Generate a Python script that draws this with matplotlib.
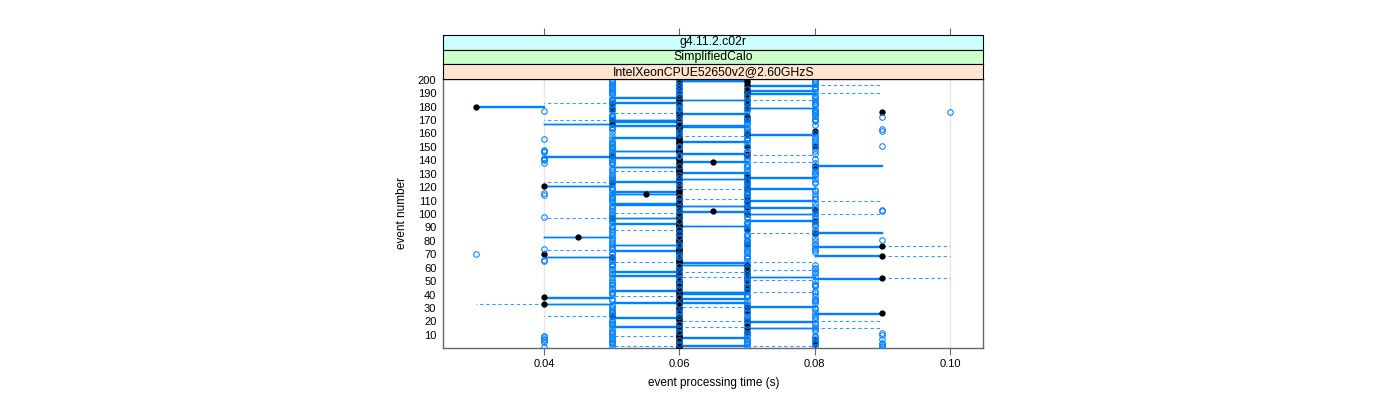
import matplotlib
matplotlib.use("Agg")
import matplotlib.pyplot as plt

plt.rcParams['font.family'] = ['Liberation Sans', 'DejaVu Sans']

# per-event box statistics, event processing time in ms (lattice bwplot style)
events = list(range(1, 201))

med_ms = [
    60, 60, 80, 60, 60, 80, 60, 60, 60, 60,
    60, 70, 60, 60, 70, 60, 60, 70, 60, 70,
    60, 60, 60, 50, 60, 90, 60, 70, 60, 60,
    70, 60, 40, 60, 60, 60, 60, 40, 60, 60,
    60, 60, 60, 70, 60, 60, 70, 60, 60, 60,
    70, 90, 70, 60, 60, 70, 60, 70, 60, 60,
    70, 70, 60, 60, 60, 60, 60, 50, 90, 40,
    60, 60, 60, 60, 60, 90, 60, 70, 60, 60,
    60, 60, 45, 60, 60, 80, 60, 60, 70, 60,
    60, 60, 60, 60, 80, 60, 50, 60, 60, 70,
    60, 65, 80, 60, 70, 60, 60, 60, 60, 70,
    60, 60, 70, 60, 55, 60, 60, 60, 70, 60,
    40, 60, 70, 50, 60, 60, 70, 60, 70, 60,
    60, 60, 60, 60, 60, 80, 60, 60, 65, 60,
    60, 60, 50, 70, 70, 60, 60, 60, 60, 70,
    80, 60, 60, 60, 60, 60, 60, 60, 70, 70,
    60, 80, 60, 60, 60, 60, 50, 60, 60, 50,
    70, 60, 70, 60, 60, 90, 60, 50, 70, 30,
    60, 70, 50, 60, 70, 60, 60, 70, 60, 70,
    60, 70, 60, 70, 60, 70, 60, 70, 70, 60,
]

q1_ms = [
    60, 60, 80, 60, 60, 80, 60, 60, 60, 60,
    60, 70, 60, 60, 70, 50, 60, 70, 60, 70,
    60, 60, 50, 50, 60, 80, 60, 70, 60, 60,
    70, 60, 40, 50, 60, 60, 60, 40, 60, 60,
    60, 60, 50, 70, 60, 60, 70, 60, 60, 60,
    70, 80, 70, 50, 60, 70, 50, 70, 60, 60,
    70, 60, 60, 60, 60, 60, 60, 40, 80, 40,
    60, 60, 50, 60, 60, 80, 50, 70, 60, 60,
    60, 60, 40, 60, 60, 80, 60, 60, 70, 60,
    60, 60, 50, 60, 70, 60, 50, 60, 60, 70,
    60, 60, 80, 60, 70, 60, 50, 50, 60, 70,
    60, 60, 70, 60, 50, 60, 50, 60, 70, 60,
    40, 60, 70, 50, 60, 60, 70, 60, 70, 60,
    60, 60, 60, 60, 50, 80, 60, 60, 60, 60,
    60, 50, 40, 70, 60, 60, 50, 60, 60, 70,
    80, 60, 60, 60, 60, 60, 50, 60, 70, 70,
    60, 80, 60, 60, 60, 50, 40, 60, 50, 50,
    70, 60, 70, 60, 60, 90, 60, 50, 70, 30,
    60, 70, 50, 60, 60, 60, 50, 70, 60, 70,
    60, 70, 60, 70, 60, 70, 60, 70, 60, 60,
]

q3_ms = [
    60, 70, 80, 60, 60, 80, 60, 70, 60, 60,
    60, 70, 60, 60, 80, 60, 60, 70, 60, 80,
    60, 60, 60, 50, 60, 90, 60, 70, 60, 60,
    80, 60, 50, 70, 60, 60, 70, 50, 60, 60,
    70, 70, 60, 70, 60, 60, 70, 60, 60, 60,
    70, 90, 80, 60, 60, 70, 60, 70, 60, 60,
    70, 70, 60, 70, 60, 60, 60, 50, 90, 40,
    60, 60, 60, 60, 60, 90, 60, 70, 60, 60,
    60, 60, 50, 60, 60, 90, 60, 60, 70, 60,
    70, 60, 60, 60, 80, 60, 60, 60, 60, 80,
    60, 70, 80, 60, 80, 70, 60, 60, 60, 80,
    60, 60, 70, 60, 60, 60, 60, 60, 80, 60,
    50, 60, 70, 60, 60, 70, 80, 60, 70, 60,
    70, 60, 60, 60, 60, 90, 60, 60, 70, 60,
    60, 60, 50, 70, 70, 60, 60, 60, 60, 70,
    80, 60, 60, 70, 60, 60, 60, 60, 80, 70,
    60, 80, 60, 60, 70, 70, 50, 60, 60, 60,
    70, 60, 70, 60, 70, 90, 60, 50, 80, 40,
    60, 70, 60, 60, 70, 60, 60, 70, 60, 80,
    60, 80, 60, 70, 60, 80, 60, 70, 70, 70,
]

lo_ms = [
    60, 50, 80, 60, 60, 80, 60, 60, 50, 60,
    60, 70, 60, 60, 70, 50, 60, 70, 60, 60,
    60, 60, 50, 40, 60, 80, 60, 70, 60, 60,
    60, 60, 30, 50, 60, 60, 60, 40, 50, 60,
    60, 60, 50, 70, 60, 60, 70, 60, 60, 60,
    70, 80, 60, 50, 60, 70, 50, 70, 60, 60,
    70, 60, 60, 50, 60, 60, 60, 40, 80, 40,
    60, 60, 40, 60, 60, 80, 50, 70, 60, 60,
    60, 60, 40, 60, 60, 70, 60, 50, 70, 60,
    60, 60, 50, 60, 70, 60, 40, 60, 60, 70,
    50, 60, 80, 60, 70, 60, 50, 50, 60, 70,
    60, 60, 70, 60, 50, 60, 50, 60, 60, 60,
    40, 60, 70, 40, 60, 60, 70, 60, 70, 60,
    60, 50, 60, 60, 50, 80, 60, 60, 60, 60,
    60, 50, 40, 70, 60, 60, 50, 60, 60, 70,
    80, 60, 60, 60, 60, 60, 50, 60, 70, 70,
    60, 80, 60, 60, 60, 50, 40, 60, 50, 40,
    70, 60, 70, 60, 50, 90, 60, 50, 70, 30,
    60, 70, 40, 60, 60, 60, 50, 70, 60, 70,
    60, 70, 60, 70, 60, 70, 60, 70, 60, 60,
]

hi_ms = [
    60, 80, 80, 60, 60, 80, 60, 70, 60, 60,
    60, 70, 60, 60, 90, 70, 60, 70, 60, 90,
    60, 60, 60, 50, 60, 90, 60, 70, 60, 60,
    80, 60, 50, 70, 60, 60, 70, 50, 60, 60,
    70, 80, 60, 70, 60, 60, 70, 60, 60, 60,
    80, 100, 80, 60, 60, 70, 70, 80, 60, 60,
    70, 70, 60, 80, 60, 60, 60, 50, 100, 40,
    60, 60, 60, 60, 60, 100, 60, 70, 60, 60,
    60, 60, 50, 60, 60, 90, 60, 60, 70, 60,
    70, 60, 60, 60, 80, 60, 60, 60, 60, 90,
    60, 70, 80, 60, 80, 70, 60, 60, 60, 90,
    70, 60, 70, 60, 60, 60, 60, 60, 80, 60,
    50, 60, 70, 60, 60, 70, 80, 60, 70, 60,
    70, 60, 60, 60, 60, 90, 60, 60, 80, 60,
    60, 60, 50, 80, 70, 60, 60, 60, 60, 70,
    80, 60, 60, 70, 60, 60, 60, 70, 80, 70,
    60, 80, 60, 60, 70, 70, 50, 60, 60, 60,
    70, 60, 70, 60, 70, 90, 60, 50, 80, 40,
    60, 70, 60, 60, 80, 60, 60, 70, 60, 90,
    60, 80, 60, 70, 60, 90, 60, 70, 70, 70,
]

fliers_ms = [
    [40, 50, 70, 80, 90], [90], [50, 60, 70, 90], [50, 70, 80, 90], [40, 50, 70, 80],
    [40, 50, 60, 70], [40, 50, 70, 80, 90], [40, 50, 80], [40, 70, 80], [50, 70, 90],
    [50, 70, 90], [50, 60], [50, 80], [70, 80], [50, 60],
    [80], [50, 70], [50, 60, 80], [50, 80], [50],
    [50, 70], [70, 80], [70, 80], [60, 70], [50, 80],
    [50, 60, 70], [50, 70, 80], [50, 60], [50, 80], [70, 80],
    [50], [50, 70], [60, 70], [80], [70, 80],
    [50, 80], [50, 80], [60, 70], [70, 80], [50, 70],
    [50, 80], [50], [70, 80], [50, 60], [50, 70],
    [70, 80], [50, 60, 80], [50, 80], [50, 70], [70, 80],
    [50, 60], [60, 70], [50], [70, 80], [50, 70],
    [50, 60, 80], [80], [50, 60], [50, 80], [70, 80],
    [50, 60], [50, 80], [50, 70], [], [40, 50, 70],
    [40, 50], [50, 70], [60, 70], [60, 70], [30, 50, 60],
    [50, 70], [70, 80], [70, 80], [40, 50, 70], [50, 80],
    [50, 60, 70], [70, 80], [50, 60, 80], [50, 70], [70, 80],
    [50, 70, 90], [50, 80], [60, 70], [50, 70], [70, 80],
    [50, 60], [50, 80], [70, 80], [50, 60], [50, 70],
    [50, 80], [70, 80], [70, 80], [50, 70], [50, 60],
    [50, 80], [70, 80], [40, 50, 70], [50, 80], [50, 60],
    [70, 80], [50, 90], [60, 70, 90], [50, 70, 80], [50, 60],
    [50, 80], [70], [70, 80], [50, 70], [50, 60],
    [50, 80], [50, 70], [50, 60, 80], [40, 50, 70], [70, 80],
    [40, 50, 70], [70, 80], [50, 80], [50], [50, 70],
    [60, 70], [50, 70], [50, 60, 80], [70, 80], [50, 70],
    [50, 80], [50, 60], [50, 70], [50, 60, 80], [70, 80],
    [50, 80], [70, 80], [50, 70], [50, 80], [70, 80],
    [60, 70], [50, 70], [40, 50, 80], [50], [40, 50, 70],
    [40, 50, 80], [40, 70], [60, 70], [50, 60], [50, 80],
    [40, 50, 70], [40, 70, 80], [40, 50], [50, 80], [50, 60],
    [50, 60, 70, 90], [50, 80], [50, 70], [50, 80], [70, 80],
    [40, 50, 70], [70, 80], [50, 80], [60], [60, 80],
    [50, 70], [60, 70, 90], [50, 70, 90], [50, 70], [50],
    [80], [60, 70], [50, 70], [70, 80], [70, 80],
    [50, 60, 80], [50, 70, 90], [50, 60, 80], [50, 80], [80],
    [80, 100], [40, 50, 70, 80], [60, 70, 80], [50, 60], [60, 70],
    [50, 80], [50, 60, 80], [70, 80], [50, 70, 80], [50],
    [50, 80], [70, 80], [60, 80], [50, 70], [50, 60],
    [50, 80], [50, 60], [50, 70, 80], [50, 60, 80], [50, 80],
    [50, 60], [50, 80], [50, 60, 80], [50, 80], [50, 80],
]

strip_labels = ["g4.11.2.c02r", "SimplifiedCalo", "IntelXeonCPUE52650v2@2.60GHzS"]
strip_colors = ["#ccffff", "#ccffcc", "#ffe5cc"]
x_ticks = [0.04, 0.06, 0.08, 0.10]
x_ticklabels = ["0.04", "0.06", "0.08", "0.10"]
y_ticks = list(range(10, 201, 10))

blue = "#0080ff"
W, H = 1400, 400
px_l, px_r, px_t, px_b = 443.3, 983.3, 79.0, 347.7
xlim = (0.0251, 0.1049)

fig = plt.figure(figsize=(W / 100, H / 100), dpi=100)
ax = fig.add_axes([px_l / W, 1 - px_b / H, (px_r - px_l) / W, (px_b - px_t) / H])

stats = []
for i in range(len(events)):
    stats.append(dict(med=med_ms[i] / 1000, q1=q1_ms[i] / 1000, q3=q3_ms[i] / 1000,
                      whislo=lo_ms[i] / 1000, whishi=hi_ms[i] / 1000,
                      fliers=[v / 1000 for v in fliers_ms[i]]))

bxp_kw = dict(positions=events, widths=0.5, showcaps=False, manage_ticks=False,
              boxprops=dict(color=blue, lw=1.0),
              whiskerprops=dict(color=blue, lw=0.8, ls=(0, (3, 2.5)), alpha=0.8),
              medianprops=dict(lw=0),
              flierprops=dict(marker="o", mfc="none", mec=blue, ms=4.0, mew=0.75,
                              ls="none", zorder=4))
try:
    ax.bxp(stats, orientation="horizontal", **bxp_kw)
except TypeError:
    ax.bxp(stats, vert=False, **bxp_kw)

# medians as black dots (outliers drawn over them, as lattice does)
ax.plot([m / 1000 for m in med_ms], events, ls="none", marker="o",
        color="black", ms=3.5, zorder=3)

for xv in x_ticks:
    ax.axvline(xv, color="#e6e6e6", lw=1, zorder=0)

ax.set_xlim(*xlim)
ax.set_ylim(0.4, 200.6)
ax.set_xticks(x_ticks)
ax.set_xticklabels(x_ticklabels)
ax.set_yticks(y_ticks)
ax.set_yticklabels([str(v) for v in y_ticks])
ax.tick_params(axis="x", length=5, width=0.8, color="#666666", labelsize=8, pad=3)
ax.tick_params(axis="y", length=0, labelsize=8, pad=5)
for s in ax.spines.values():
    s.set_color("#666666")
    s.set_linewidth(1.0)

# strips on top
strip_h = 14.7
for k, (lab, col) in enumerate(zip(strip_labels, strip_colors)):
    top_px = px_t - strip_h * (3 - k)
    sax = fig.add_axes([px_l / W, 1 - (top_px + strip_h) / H, (px_r - px_l) / W, strip_h / H])
    sax.set_facecolor(col)
    sax.set_xlim(*xlim)
    sax.set_yticks([])
    sax.text(0.5, 0.5, lab, transform=sax.transAxes, ha="center", va="center", fontsize=8.8)
    for s in sax.spines.values():
        s.set_color("black")
        s.set_linewidth(0.8)
    if k == 0:
        sax.xaxis.tick_top()
        sax.set_xticks(x_ticks)
        sax.set_xticklabels([])
        sax.tick_params(axis="x", length=5, width=0.8, color="#666666")
    else:
        sax.set_xticks([])

fig.text((px_l + px_r) / 2 / W, 1 - 383 / H, "event processing time (s)",
         ha="center", va="center", fontsize=8.5)
fig.text(402 / W, 1 - (px_t + px_b) / 2 / H, "event number",
         ha="center", va="center", rotation=90, fontsize=8.5)

fig.savefig("out.png", dpi=100)
